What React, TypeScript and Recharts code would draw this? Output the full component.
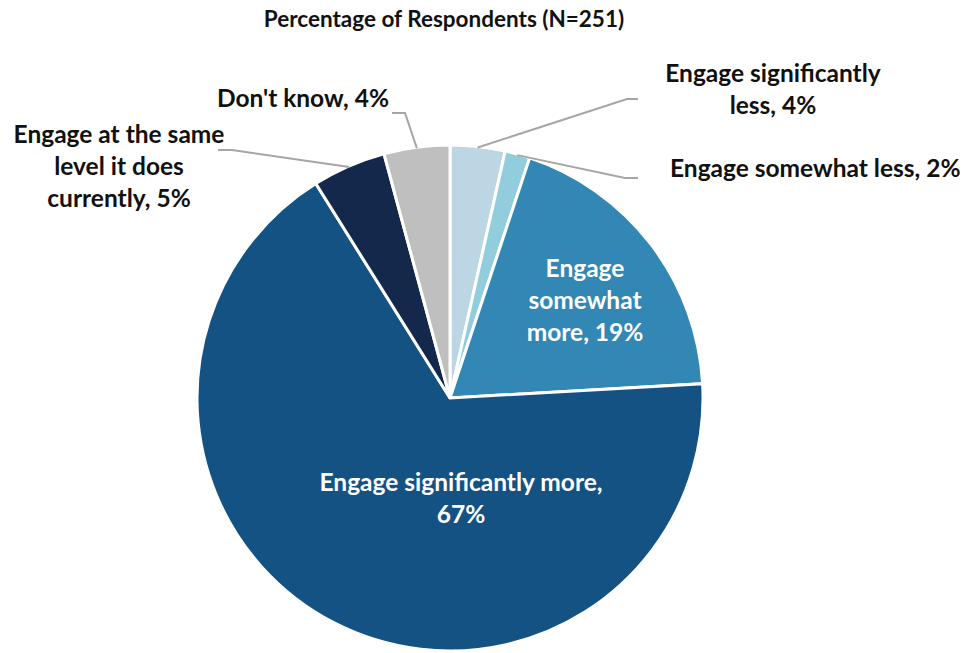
import { PieChart, Pie, Cell } from 'recharts';

const categories = [
  'Engage significantly less',
  'Engage somewhat less',
  'Engage somewhat more',
  'Engage significantly more',
  'Engage at the same level it does currently',
  "Don't know",
];
const values = [3.5, 1.6, 19.0, 67.0, 4.7, 4.2];
const shownPercent = ['4%', '2%', '19%', '67%', '5%', '4%'];
const colors = ['#bcd6e3', '#92cddd', '#3287b4', '#155284', '#13284b', '#bfbfbf'];

// label text lines, split as in the original
const labelLines = [
  ['Engage significantly', 'less, 4%'],
  ['Engage somewhat less, 2%'],
  ['Engage', 'somewhat', 'more, 19%'],
  ['Engage significantly more,', '67%'],
  ['Engage at the same', 'level it does', 'currently, 5%'],
  ["Don't know, 4%"],
];

// label placement: inside labels sit on the slice, outside labels get a leader line
type Place = {
  inside: boolean;
  x: number;
  y: number;
  anchor: 'start' | 'middle' | 'end';
  elbow?: [number, number];
  end?: [number, number];
};
const placements: Place[] = [
  { inside: false, x: 773, y: 72, anchor: 'middle', elbow: [627, 99], end: [638, 99] },
  { inside: false, x: 670, y: 167, anchor: 'start', elbow: [625, 178], end: [638, 178] },
  { inside: true, x: 585, y: 267, anchor: 'middle' },
  { inside: true, x: 461, y: 481, anchor: 'middle' },
  { inside: false, x: 119, y: 133, anchor: 'middle', elbow: [232, 150], end: [218, 150] },
  { inside: false, x: 303, y: 97, anchor: 'middle', elbow: [405, 113], end: [392, 113] },
];

const data = categories.map((name, i) => ({ name, value: values[i], pct: shownPercent[i] }));

const RAD = Math.PI / 180;
const FONT = 'Lato, "Open Sans", sans-serif';

function renderLabel(props: any) {
  const { cx, cy, midAngle, outerRadius, index } = props;
  const p = placements[index];
  const lines = labelLines[index];
  const lineH = 32;
  const text = (
    <text
      x={p.x}
      y={p.y}
      textAnchor={p.anchor}
      dominantBaseline="central"
      fill={p.inside ? '#ffffff' : '#111111'}
      fontFamily={FONT}
      fontWeight={700}
      fontSize={24.5}
    >
      {lines.map((l, k) => (
        <tspan key={k} x={p.x} dy={k === 0 ? 0 : lineH}>
          {l}
        </tspan>
      ))}
    </text>
  );
  if (p.inside) return <g key={`lbl-${index}`}>{text}</g>;
  const sx = cx + (outerRadius - 1) * Math.cos(-midAngle * RAD);
  const sy = cy + (outerRadius - 1) * Math.sin(-midAngle * RAD);
  const [ex, ey] = p.elbow!;
  const [tx, ty] = p.end!;
  return (
    <g key={`lbl-${index}`}>
      <polyline
        points={`${sx},${sy} ${ex},${ey} ${tx},${ty}`}
        fill="none"
        stroke="#a6a6a6"
        strokeWidth={2}
      />
      {text}
    </g>
  );
}

export default function App() {
  return (
    <div style={{ position: 'absolute', left: 0, top: 0, width: 972, height: 653, background: '#fff' }}>
      <div
        style={{
          position: 'absolute',
          left: 0,
          top: 5,
          width: 888,
          textAlign: 'center',
          fontFamily: FONT,
          fontWeight: 700,
          fontSize: 22.5,
          lineHeight: '27px',
          color: '#111111',
        }}
      >
        Percentage of Respondents (N=251)
      </div>
      <PieChart width={972} height={653} margin={{ top: 0, right: 0, bottom: 0, left: 0 }}>
        <Pie
          data={data}
          dataKey="value"
          nameKey="name"
          cx={450}
          cy={398}
          outerRadius={253}
          startAngle={90}
          endAngle={-270}
          stroke="#ffffff"
          strokeWidth={3}
          label={renderLabel}
          labelLine={false}
          isAnimationActive={false}
        >
          {data.map((d, i) => (
            <Cell key={d.name} fill={colors[i]} />
          ))}
        </Pie>
      </PieChart>
    </div>
  );
}
